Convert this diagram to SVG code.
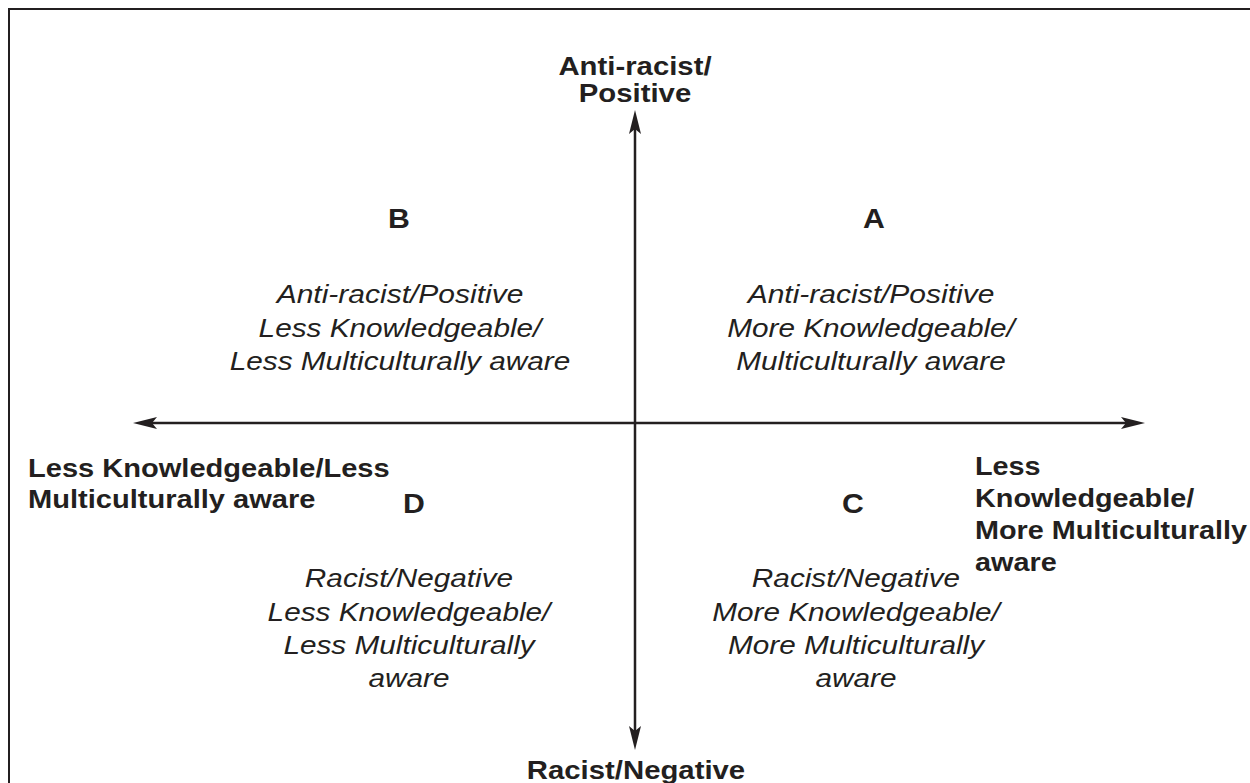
<svg xmlns="http://www.w3.org/2000/svg" width="1250" height="783" viewBox="0 0 1250 783">
<style>
.frame{fill:none;stroke:#231f20;stroke-width:2}
.axis{fill:none;stroke:#231f20;stroke-width:2.5}
.head{fill:#231f20;stroke:none}
.b{font-family:"Liberation Sans",Arial,sans-serif;font-weight:bold;font-size:25.5px;fill:#231f20}
.q{font-family:"Liberation Sans",Arial,sans-serif;font-weight:bold;font-size:27px;fill:#231f20;text-anchor:middle}
.i{font-family:"Liberation Sans",Arial,sans-serif;font-style:italic;font-size:25px;fill:#231f20;text-anchor:middle}
.m{text-anchor:middle}
</style>
<rect class="frame" x="9" y="9" width="1260" height="800"/>
<g id="connectors">
<line class="axis" x1="635" y1="126" x2="635" y2="734"/>
<path class="head" d="M635,110 L641,134 L635,129 L629,134 Z"/>
<path class="head" d="M635,750 L641,726 L635,731 L629,726 Z"/>
<line class="axis" x1="150" y1="423" x2="1128" y2="423"/>
<path class="head" d="M133,423 L157,417 L152,423 L157,429 Z"/>
<path class="head" d="M1145,423 L1121,417 L1126,423 L1121,429 Z"/>
</g>
<g id="axis-top">
<text class="b m" transform="translate(635,75) scale(1.15,1)">Anti-racist/</text>
<text class="b m" transform="translate(635,102) scale(1.15,1)">Positive</text>
</g>
<g id="axis-bottom">
<text class="b m" transform="translate(636,779) scale(1.15,1)">Racist/Negative</text>
</g>
<g id="axis-left">
<text class="b" transform="translate(28,477) scale(1.14,1)">Less Knowledgeable/Less</text>
<text class="b" transform="translate(28,508) scale(1.14,1)">Multiculturally aware</text>
</g>
<g id="axis-right">
<text class="b" transform="translate(975,475) scale(1.13,1)">Less</text>
<text class="b" transform="translate(975,507) scale(1.13,1)">Knowledgeable/</text>
<text class="b" transform="translate(975,539) scale(1.13,1)">More Multiculturally</text>
<text class="b" transform="translate(975,571) scale(1.13,1)">aware</text>
</g>
<g id="quadrant-B">
<text class="q" transform="translate(399,228) scale(1.12,1)">B</text>
<text class="i" transform="translate(400,303) scale(1.2,1)">Anti-racist/Positive</text>
<text class="i" transform="translate(400,337) scale(1.19,1)">Less Knowledgeable/</text>
<text class="i" transform="translate(400,370) scale(1.19,1)">Less Multiculturally aware</text>
</g>
<g id="quadrant-A">
<text class="q" transform="translate(874,228) scale(1.12,1)">A</text>
<text class="i" transform="translate(871,303) scale(1.2,1)">Anti-racist/Positive</text>
<text class="i" transform="translate(871,337) scale(1.19,1)">More Knowledgeable/</text>
<text class="i" transform="translate(871,370) scale(1.19,1)">Multiculturally aware</text>
</g>
<g id="quadrant-D">
<text class="q" transform="translate(414,513) scale(1.12,1)">D</text>
<text class="i" transform="translate(409,587) scale(1.19,1)">Racist/Negative</text>
<text class="i" transform="translate(409,621) scale(1.19,1)">Less Knowledgeable/</text>
<text class="i" transform="translate(409,654) scale(1.19,1)">Less Multiculturally</text>
<text class="i" transform="translate(409,687) scale(1.19,1)">aware</text>
</g>
<g id="quadrant-C">
<text class="q" transform="translate(853,513) scale(1.12,1)">C</text>
<text class="i" transform="translate(856,587) scale(1.19,1)">Racist/Negative</text>
<text class="i" transform="translate(856,621) scale(1.19,1)">More Knowledgeable/</text>
<text class="i" transform="translate(856,654) scale(1.19,1)">More Multiculturally</text>
<text class="i" transform="translate(856,687) scale(1.19,1)">aware</text>
</g>
</svg>
